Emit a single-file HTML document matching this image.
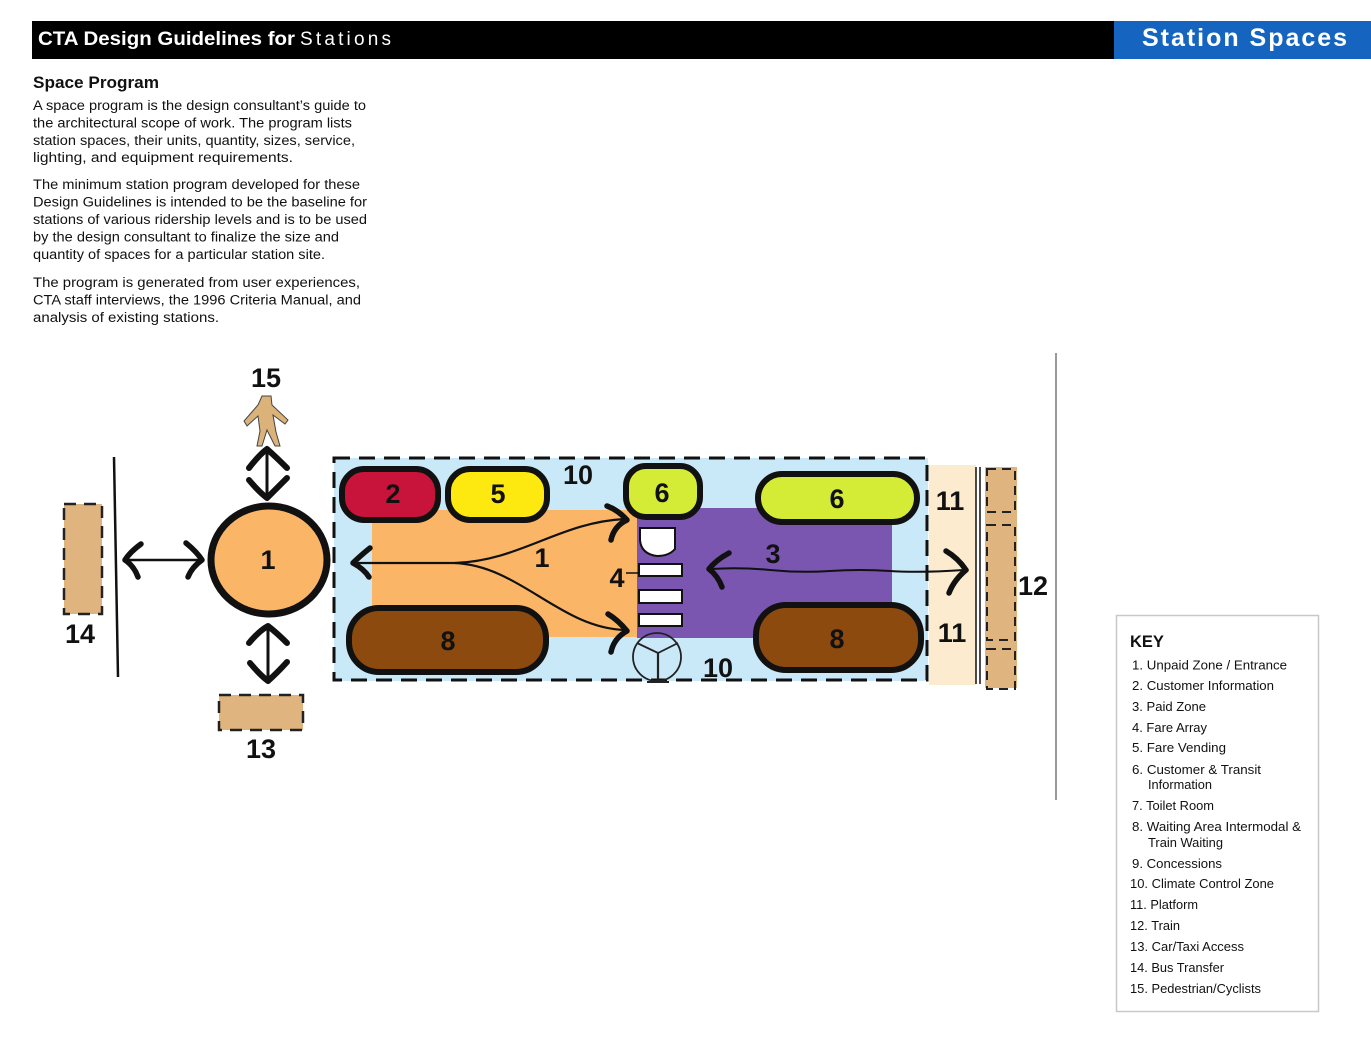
<!DOCTYPE html>
<html><head><meta charset="utf-8">
<style>
html,body{margin:0;padding:0;background:#fff;}
svg{display:block;}
text{font-family:"Liberation Sans",Arial,sans-serif;}
.b{font-weight:bold;}
.n{font-weight:bold;font-size:27px;fill:#111;text-anchor:middle;}
.t{font-size:13.5px;fill:#111;}
.k{font-size:13px;fill:#111;}
</style></head>
<body>
<svg width="1371" height="1046" viewBox="0 0 1371 1046" xmlns="http://www.w3.org/2000/svg">
<rect width="1371" height="1046" fill="#fff"/>
<!-- header -->
<rect x="32" y="21" width="1082" height="38" fill="#000"/>
<rect x="1114" y="21" width="257" height="38" fill="#1565c0"/>
<text x="38" y="45" class="b" font-size="19" fill="#fff" textLength="257" lengthAdjust="spacingAndGlyphs">CTA Design Guidelines for</text>
<text x="300" y="45" font-size="19" fill="#fff" textLength="91" lengthAdjust="spacing">Stations</text>
<text x="1142" y="46" class="b" font-size="25" fill="#fff" textLength="205" lengthAdjust="spacing">Station Spaces</text>

<!-- intro text -->
<text x="33" y="88" class="b" font-size="17" fill="#111" textLength="126" lengthAdjust="spacingAndGlyphs">Space Program</text>
<text x="33" y="110" class="t" textLength="333" lengthAdjust="spacingAndGlyphs">A space program is the design consultant’s guide to</text>
<text x="33" y="127.4" class="t" textLength="319" lengthAdjust="spacingAndGlyphs">the architectural scope of work. The program lists</text>
<text x="33" y="144.8" class="t" textLength="322" lengthAdjust="spacingAndGlyphs">station spaces, their units, quantity, sizes, service,</text>
<text x="33" y="162.2" class="t" textLength="260" lengthAdjust="spacingAndGlyphs">lighting, and equipment requirements.</text>
<text x="33" y="189" class="t" textLength="327" lengthAdjust="spacingAndGlyphs">The minimum station program developed for these</text>
<text x="33" y="206.5" class="t" textLength="334" lengthAdjust="spacingAndGlyphs">Design Guidelines is intended to be the baseline for</text>
<text x="33" y="224" class="t" textLength="334" lengthAdjust="spacingAndGlyphs">stations of various ridership levels and is to be used</text>
<text x="33" y="241.4" class="t" textLength="306" lengthAdjust="spacingAndGlyphs">by the design consultant to finalize the size and</text>
<text x="33" y="258.8" class="t" textLength="292" lengthAdjust="spacingAndGlyphs">quantity of spaces for a particular station site.</text>
<text x="33" y="287" class="t" textLength="327" lengthAdjust="spacingAndGlyphs">The program is generated from user experiences,</text>
<text x="33" y="304.5" class="t" textLength="328" lengthAdjust="spacingAndGlyphs">CTA staff interviews, the 1996 Criteria Manual, and</text>
<text x="33" y="322" class="t" textLength="186" lengthAdjust="spacingAndGlyphs">analysis of existing stations.</text>

<!-- ===== diagram ===== -->
<line x1="1056" y1="353" x2="1056" y2="800" stroke="#555" stroke-width="1.2"/>

<!-- bus transfer 14 -->
<rect x="64" y="504" width="38" height="110" fill="#dfb47e" stroke="#222" stroke-width="2.5" stroke-dasharray="12 8"/>
<text x="80" y="643" class="n">14</text>
<line x1="114" y1="457" x2="118" y2="677" stroke="#111" stroke-width="2.5"/>
<line x1="126" y1="560" x2="201" y2="560" stroke="#111" stroke-width="2.5"/>
<path d="M141,544 Q130,552 125,560 Q134,566 138,577" fill="none" stroke="#111" stroke-width="5.5" stroke-linecap="round" stroke-linejoin="round"/>
<path d="M186,543 Q197,552 202,560 Q192,567 188,577" fill="none" stroke="#111" stroke-width="5.5" stroke-linecap="round" stroke-linejoin="round"/>

<!-- pedestrian 15 -->
<text x="266" y="387" class="n">15</text>
<path d="M262,396 L271,396 L272,405 L288,420 L285,424 L273,415 L276,432 L280,446 L275,446 L267,430 L262,446 L257,446 L260,431 L258,416 L247,426 L244,421 L258,405 Z" fill="#dcb27b" stroke="#444" stroke-width="1"/>
<line x1="267" y1="449" x2="267" y2="498" stroke="#111" stroke-width="3"/>
<path d="M249,468 Q259,455 267,449 Q276,457 287,468" fill="none" stroke="#111" stroke-width="6" stroke-linecap="round" stroke-linejoin="round"/>
<path d="M249,480 Q259,492 267,498 Q276,489 287,478" fill="none" stroke="#111" stroke-width="6" stroke-linecap="round" stroke-linejoin="round"/>

<!-- circle 1 -->
<ellipse cx="269" cy="560" rx="58" ry="54" fill="#fbb567" stroke="#111" stroke-width="7"/>
<text x="268" y="569" class="n">1</text>

<line x1="268" y1="626" x2="268" y2="681" stroke="#111" stroke-width="3"/>
<path d="M249,643 Q259,631 268,626 Q277,633 287,643" fill="none" stroke="#111" stroke-width="6" stroke-linecap="round" stroke-linejoin="round"/>
<path d="M250,663 Q260,675 268,681 Q277,673 287,662" fill="none" stroke="#111" stroke-width="6" stroke-linecap="round" stroke-linejoin="round"/>

<!-- car/taxi 13 -->
<rect x="219" y="695" width="84" height="35" fill="#dfb47e" stroke="#222" stroke-width="2.5" stroke-dasharray="12 8"/>
<text x="261" y="758" class="n">13</text>

<!-- climate zone -->
<rect x="334" y="458" width="594" height="223" fill="#c9e8f8"/>
<rect x="372" y="510" width="265" height="127" fill="#fbb567"/>
<rect x="637" y="508" width="255" height="130" fill="#7b56b1"/>
<rect x="334" y="458" width="593" height="222" fill="none" stroke="#111" stroke-width="3" stroke-dasharray="16 9"/>

<!-- platform & train -->
<rect x="929" y="465" width="47" height="220" fill="#fdebd0"/>
<line x1="976" y1="467" x2="976" y2="684" stroke="#111" stroke-width="1.5"/>
<line x1="980" y1="467" x2="980" y2="684" stroke="#111" stroke-width="1.5"/>
<rect x="985" y="467" width="32" height="221" fill="#dfb47e"/>
<rect x="987" y="469" width="28" height="43" fill="none" stroke="#222" stroke-width="2" stroke-dasharray="9 6"/>
<rect x="987" y="525" width="28" height="115" fill="none" stroke="#222" stroke-width="2" stroke-dasharray="9 6"/>
<rect x="987" y="649" width="28" height="40" fill="none" stroke="#222" stroke-width="2" stroke-dasharray="9 6"/>
<text x="1033" y="595" class="n">12</text>
<text x="950" y="510" class="n">11</text>
<text x="952" y="642" class="n">11</text>

<!-- pills -->
<rect x="342" y="469" width="96" height="51" rx="22" fill="#c8143a" stroke="#111" stroke-width="6"/>
<rect x="448" y="469" width="99" height="51" rx="22" fill="#fde910" stroke="#111" stroke-width="6"/>
<rect x="626" y="466" width="74" height="51" rx="20" fill="#d4ec36" stroke="#111" stroke-width="6"/>
<rect x="758" y="474" width="159" height="48" rx="24" fill="#d4ec36" stroke="#111" stroke-width="6"/>
<rect x="349" y="608" width="197" height="64" rx="30" fill="#8c4a0e" stroke="#111" stroke-width="6"/>
<rect x="756" y="605" width="165" height="65" rx="30" fill="#8c4a0e" stroke="#111" stroke-width="6"/>
<text x="393" y="503" class="n">2</text>
<text x="498" y="503" class="n">5</text>
<text x="662" y="502" class="n">6</text>
<text x="837" y="508" class="n">6</text>
<text x="448" y="650" class="n">8</text>
<text x="837" y="648" class="n">8</text>
<text x="578" y="484" class="n" font-size="26">10</text>
<text x="718" y="677" class="n" font-size="26">10</text>
<text x="542" y="567" class="n">1</text>
<text x="773" y="563" class="n">3</text>
<text x="617" y="587" class="n">4</text>
<line x1="626" y1="573" x2="639" y2="573" stroke="#111" stroke-width="1.5"/>

<!-- fare array -->
<path d="M640,528 L675,528 L675,549 Q669,556 657,556 Q641,554 640,540 Z" fill="#fff" stroke="#111" stroke-width="2"/>
<rect x="639" y="564" width="43" height="12" fill="#fff" stroke="#111" stroke-width="2"/>
<rect x="639" y="590" width="43" height="13" fill="#fff" stroke="#111" stroke-width="2"/>
<rect x="639" y="614" width="43" height="12" fill="#fff" stroke="#111" stroke-width="2"/>
<circle cx="657" cy="657" r="24" fill="none" stroke="#222" stroke-width="1.8"/>
<polyline points="637,643 658,653 678,643" fill="none" stroke="#222" stroke-width="1.8"/>
<line x1="658" y1="653" x2="658" y2="681" stroke="#222" stroke-width="2.2"/>
<line x1="647" y1="682" x2="669" y2="682" stroke="#222" stroke-width="2"/>

<!-- fork arrows -->
<path d="M356,563 L455,563 C520,561 560,522 625,519" fill="none" stroke="#111" stroke-width="2.2"/>
<path d="M455,563 C520,566 560,628 625,630" fill="none" stroke="#111" stroke-width="2.2"/>
<path d="M370,548 Q360,556 353,563 Q364,569 369,577" fill="none" stroke="#111" stroke-width="5.5" stroke-linecap="round" stroke-linejoin="round"/>
<path d="M607,506 Q618,510 627,520 Q614,526 611,540" fill="none" stroke="#111" stroke-width="5.5" stroke-linecap="round" stroke-linejoin="round"/>
<path d="M608,614 Q618,620 627,631 Q614,638 611,652" fill="none" stroke="#111" stroke-width="5.5" stroke-linecap="round" stroke-linejoin="round"/>

<!-- paid-zone arrow 3 -->
<path d="M711,569 Q740,567 770,570 T830,571 T890,571 T964,570" fill="none" stroke="#111" stroke-width="2"/>
<path d="M729,553 Q716,560 709,569 Q718,576 722,587" fill="none" stroke="#111" stroke-width="5.5" stroke-linecap="round" stroke-linejoin="round"/>
<path d="M946,551 Q958,558 966,570 Q954,580 949,593" fill="none" stroke="#111" stroke-width="5.5" stroke-linecap="round" stroke-linejoin="round"/>

<!-- KEY -->
<rect x="1116.5" y="615.5" width="202" height="396" fill="#fff" stroke="#c8c8c8" stroke-width="1.5"/>
<text x="1130" y="647" class="b" font-size="16.5" fill="#111">KEY</text>
<text x="1132" y="669.5" class="k" textLength="155" lengthAdjust="spacingAndGlyphs">1. Unpaid Zone / Entrance</text>
<text x="1132" y="690" class="k" textLength="142" lengthAdjust="spacingAndGlyphs">2. Customer Information</text>
<text x="1132" y="711" class="k" textLength="74" lengthAdjust="spacingAndGlyphs">3. Paid Zone</text>
<text x="1132" y="732" class="k" textLength="75" lengthAdjust="spacingAndGlyphs">4. Fare Array</text>
<text x="1132" y="752" class="k" textLength="94" lengthAdjust="spacingAndGlyphs">5. Fare Vending</text>
<text x="1132" y="774" class="k" textLength="129" lengthAdjust="spacingAndGlyphs">6. Customer &amp; Transit</text>
<text x="1148" y="789" class="k" textLength="64" lengthAdjust="spacingAndGlyphs">Information</text>
<text x="1132" y="810" class="k" textLength="82" lengthAdjust="spacingAndGlyphs">7. Toilet Room</text>
<text x="1132" y="831" class="k" textLength="169" lengthAdjust="spacingAndGlyphs">8. Waiting Area Intermodal &amp;</text>
<text x="1148" y="847" class="k" textLength="75" lengthAdjust="spacingAndGlyphs">Train Waiting</text>
<text x="1132" y="868" class="k" textLength="90" lengthAdjust="spacingAndGlyphs">9. Concessions</text>
<text x="1130" y="888" class="k" textLength="144" lengthAdjust="spacingAndGlyphs">10. Climate Control Zone</text>
<text x="1130" y="909" class="k" textLength="68" lengthAdjust="spacingAndGlyphs">11. Platform</text>
<text x="1130" y="930" class="k" textLength="50" lengthAdjust="spacingAndGlyphs">12. Train</text>
<text x="1130" y="951" class="k" textLength="114" lengthAdjust="spacingAndGlyphs">13. Car/Taxi Access</text>
<text x="1130" y="972" class="k" textLength="94" lengthAdjust="spacingAndGlyphs">14. Bus Transfer</text>
<text x="1130" y="993" class="k" textLength="131" lengthAdjust="spacingAndGlyphs">15. Pedestrian/Cyclists</text>
</svg>
</body></html>
